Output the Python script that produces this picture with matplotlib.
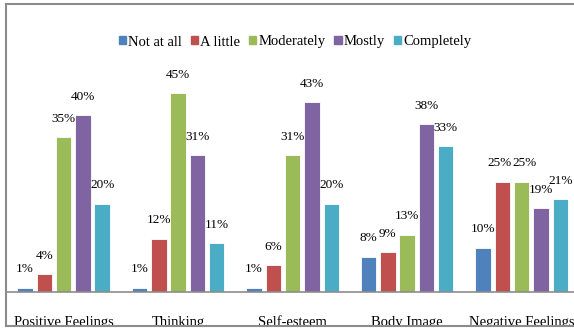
import matplotlib.pyplot as plt
from matplotlib.patches import Rectangle
from matplotlib.lines import Line2D
import numpy as np

plt.rcParams["font.family"] = ["Liberation Serif", "DejaVu Serif"]

categories = ["Positive Feelings", "Thinking", "Self-esteem", "Body Image", "Negative Feelings"]
series_names = ["Not at all", "A little", "Moderately", "Mostly", "Completely"]
values = {
    "Not at all": [1, 1, 1, 8, 10],
    "A little": [4, 12, 6, 9, 25],
    "Moderately": [35, 45, 31, 13, 25],
    "Mostly": [40, 31, 43, 38, 19],
    "Completely": [20, 11, 20, 33, 21],
}
colors = ["#4F81BD", "#C0504D", "#9BBB59", "#8064A2", "#4BACC6"]

W, H = 574, 329
fig = plt.figure(figsize=(W / 100, H / 100), dpi=100)
# axes: x from 6 to 574 px, y from baseline 292 to top 4 px
ax = fig.add_axes([6 / W, (H - 292) / H, (W - 6) / W, (292 - 4) / H])

x = np.arange(len(categories))
width = 0.135
pitch = 0.1686
# small nudges so the touching labels in the last group do not overlap
nudge = {("A little", 4): -2, ("Moderately", 4): 2}
for i, name in enumerate(series_names):
    pos = x + (i - 2) * pitch
    bars = ax.bar(pos, values[name], width=width, color=colors[i], label=name,
                  edgecolor="white", linewidth=0.6, zorder=2)
    for j, (b, v) in enumerate(zip(bars, values[name])):
        ax.annotate(f"{v}%", (b.get_x() + b.get_width() / 2, b.get_height()),
                    xytext=(nudge.get((name, j), 0), 9), textcoords="offset points",
                    ha="center", va="bottom", fontsize=9.5)

ax.set_xlim(-0.503, 4.457)
ax.set_ylim(0, 65.2)
ax.set_yticks([])
ax.set_xticks(x)
ax.set_xticklabels(categories, fontsize=10.5)
ax.tick_params(axis="x", length=0, pad=17)
for side in ["left", "right", "top"]:
    ax.spines[side].set_visible(False)
ax.spines["bottom"].set_color("#8c8c8c")
ax.spines["bottom"].set_linewidth(1.2)
ax.patch.set_alpha(0)

handles = [Rectangle((0, 0), 1, 1, color=c) for c in colors]
fig.legend(handles, series_names, loc="center", bbox_to_anchor=(295 / W, (H - 42) / H),
           ncol=5, frameon=False, fontsize=10.5, handlelength=0.5, handleheight=0.5,
           handletextpad=0.15, columnspacing=0.6)

# white strip below the outer frame, clipping the category labels
fig.add_artist(Rectangle((0, 0), 1, 3 / H, transform=fig.transFigure,
                         facecolor="white", edgecolor="none", zorder=10))
frame_kw = dict(transform=fig.transFigure, color="#8c8c8c", linewidth=1.5, zorder=11)
fig.add_artist(Line2D([6 / W, 1], [(H - 4) / H, (H - 4) / H], **frame_kw))
fig.add_artist(Line2D([6 / W, 1], [(H - 326) / H, (H - 326) / H], **frame_kw))
fig.add_artist(Line2D([6 / W, 6 / W], [(H - 326) / H, (H - 4) / H], **frame_kw))

fig.savefig("out.png", dpi=100)
